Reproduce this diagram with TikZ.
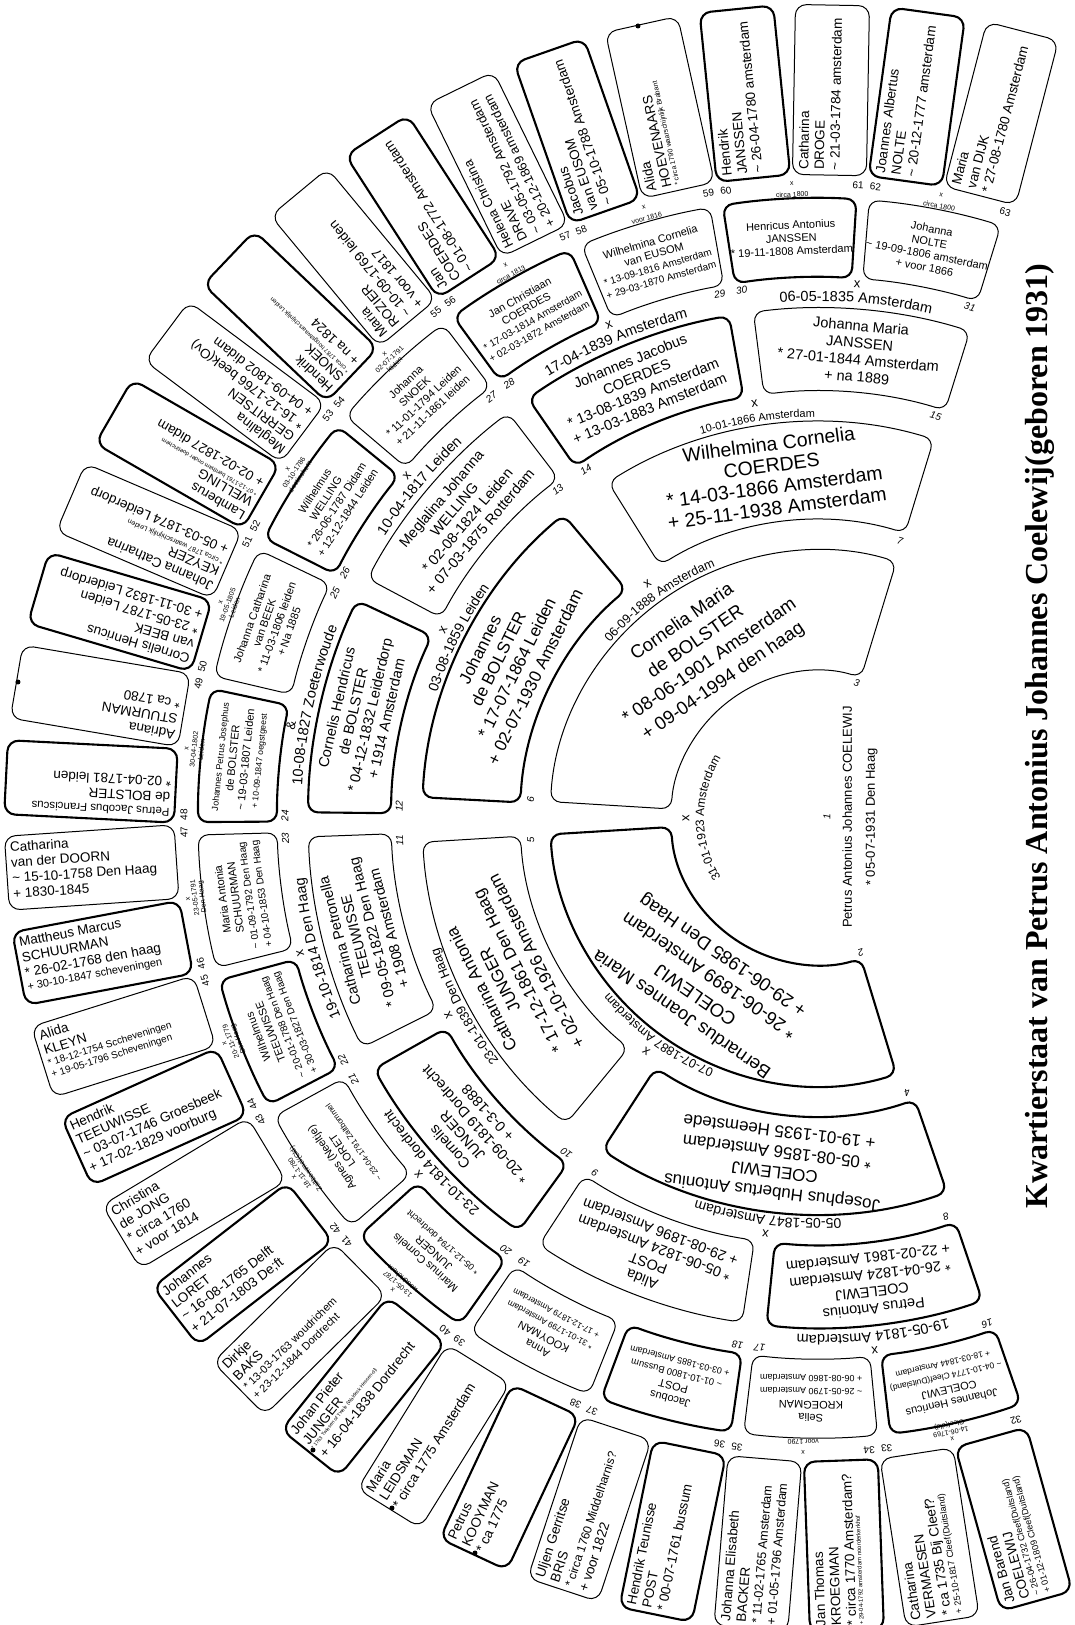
\documentclass[tikz,border=0pt]{standalone}
\usepackage{fontspec}
\setmainfont{Liberation Sans}
\newfontfamily\titlefont{Liberation Serif}
\usetikzlibrary{decorations.text}
\newcommand\fsz[2]{\fontsize{#1}{#2}\selectfont}
\newcommand\SmL[2]{{\fontsize{#1}{#1}\selectfont\setlength\baselineskip{1.2\baselineskip}#2\par}}
\tikzset{
  male/.style={line width=2.1},
  female/.style={line width=1},
  gtwo/.style={align=center,font=\fsz{18.5}{24}},
  gthree/.style={align=center,font=\fsz{17}{20.5}},
  gfour/.style={align=center,font=\fsz{14.5}{17}},
  gfive/.style={align=center,font=\fsz{11}{13}},
  sixbox/.style={draw,rounded corners=11,inner sep=5,minimum width=170,minimum height=74},
  numlab/.style={font=\fsz{10}{10}\itshape,inner sep=0},
  numsix/.style={font=\fsz{10}{10},inner sep=0},
  xmk/.style={font=\fsz{13}{13},inner sep=0},
  smlab/.style={align=center,font=\fsz{7}{7.5},inner sep=0},
  smx/.style={font=\fsz{7}{7},inner sep=0},
  dotm/.style={fill=black}
}
\newcommand\ArcBox[5]{\draw[rounded corners=10,#5] (#1:#3) arc[start angle=#1,end angle=#2,radius=#3] -- (#2:#4) arc[start angle=#2,end angle=#1,radius=#4] -- cycle;}
\newcommand\GenFour[3]{%
  \pgfmathsetmacro\ph{276.5-27.36*(#1-8)}%
  \pgfmathsetmacro\pa{\ph-12.3}\pgfmathsetmacro\pb{\ph+12.3}%
  \ArcBox{\pa}{\pb}{427}{510}{#2}%
  \node[gfour,rotate=\ph-90] (p#1) at (\ph:468.5) {#3};%
  \pgfmathsetmacro\pl{mod(#1,2)==0 ? \ph+11.3 : \ph-11.3}%
  \node[numlab,rotate=\pl-90] (n#1) at (\pl:419) {#1};}
\newcommand\GenFive[3]{%
  \pgfmathsetmacro\ph{282.9-13.59*(#1-16)}%
  \pgfmathsetmacro\pa{\ph-6.2}\pgfmathsetmacro\pb{\ph+6.2}%
  \ArcBox{\pa}{\pb}{541}{620}{#2}%
  \node[gfive,rotate=\ph-90] (p#1) at (\ph:580.5) {#3};%
  \pgfmathsetmacro\pl{mod(#1,2)==0 ? \ph+5.6 : \ph-5.6}%
  \node[numlab,rotate=\pl-90] (n#1) at (\pl:533) {#1};}
\newcommand\GenSix[3]{%
  \pgfmathsetmacro\ph{285.6-6.78*(#1-32)}%
  \pgfmathsetmacro\rt{\ph<180 ? \ph : \ph-180}%
  \node[sixbox,#2,rotate=\rt] (p#1) at (\ph:728) {\parbox[c][62pt][t]{160pt}{\fsz{13.5}{15.5}\raggedright #3\par}};%
  \pgfmathsetmacro\pl{mod(#1,2)==0 ? \ph+2.6 : \ph-2.6}%
  \node[numsix,rotate=\pl-90] (n#1) at (\pl:634) {#1};}
\newcommand\MarLab[6]{% name, angle, radius, half span, size, text
  \path[decorate,decoration={text along path,text align=center,text={|\fsz{#5}{#5}|#6}}] ({#2+#4}:#3) arc[start angle={#2+#4},end angle={#2-#4},radius=#3];
  \node[xmk,rotate=#2-90] (#1) at (#2:#3+18) {x};}
\newcommand\SmallLab[3]{%
  \node[smlab,rotate=#2-90] (#1) at (#2:624) {#3};
  \node[smx,rotate=#2-90] (#1x) at (#2:635) {x};}
\begin{document}
\begin{tikzpicture}[x=1pt,y=1pt]
\useasboundingbox (-818,-807) rectangle (256,818);
\fill[white] (-818,-807) rectangle (256,818);

% title
\node[rotate=90,font=\titlefont\bfseries\fsz{32}{32}] (title) at (222,82) {Kwartierstaat van Petrus Antonius Johannes Coelewij(geboren 1931)};

% generation 1
\node[rotate=90,align=center,font=\fsz{13}{23}] (p1) at (42,1) {Petrus Antonius Johannes COELEWIJ\\* 05-07-1931 Den Haag};
\node[numlab,rotate=90] (n1) at (9,1) {1};

% generation 2
\ArcBox{183.5}{287}{147}{268}{male}
\node[gtwo,rotate=145.25] (p2) at (235.25:202) {Bernardus Joannes Maria\\COELEWIJ\\* 26-06-1899 Amsterdam\\+ 29-06-1985 Den Haag};
\ArcBox{73}{176.5}{147}{268}{female}
\node[gtwo,rotate=34.75] (p3) at (124.75:202) {Cornelia Maria\\de BOLSTER\\* 08-06-1901 Amsterdam\\+ 09-04-1994 den haag};
\node[numlab,rotate=197.7] (n2) at (287.7:141) {2};
\node[numlab,rotate=-16] (n3) at (74:141) {3};

% generation 3
\ArcBox{237}{289}{298}{396}{male}
\node[gthree,rotate=173] (p4) at (263:347) {Josephus Hubertus Antonius\\COELEWIJ\\* 05-08-1856 Amsterdam\\+ 19-01-1935 Heemstede};
\ArcBox{183.5}{230.5}{298}{396}{female}
\node[gthree,rotate=117] (p5) at (207:347) {Catharina Antonia\\JUNGER\\* 17-12-1861 Den Haag\\+ 02-10-1926 Amsterdam};
\ArcBox{130}{177}{298}{396}{male}
\node[gthree,rotate=63.5] (p6) at (153.5:347) {Johannes\\de BOLSTER\\* 17-07-1864 Leiden\\+ 02-07-1930 Amsterdam};
\ArcBox{73}{122}{298}{396}{female}
\node[gthree,font=\fsz{19.5}{21.5},rotate=7.5] (p7) at (97.5:345) {Wilhelmina Cornelia\\COERDES\\* 14-03-1866 Amsterdam\\+ 25-11-1938 Amsterdam};
\node[numlab,rotate=198] (n4) at (288:289) {4};
\node[numlab,rotate=94.4] (n5) at (184.4:288) {5};
\node[numlab,rotate=86.3] (n6) at (176.3:288) {6};
\node[numlab,rotate=-16.5] (n7) at (73.5:289) {7};

% generation 4
\GenFour{8}{male}{Petrus Antonius\\COELEWIJ\\* 26-04-1824 Amsterdam\\+ 22-02-1861 Amsterdam}
\GenFour{9}{female}{Alida\\POST\\* 05-06-1824 Amsterdam\\+ 29-08-1896 Amsterdam}
\GenFour{10}{male}{Cornelis\\JUNGER\\* 20-09-1819 Dordrecht\\+ 0-3-1888}
\GenFour{11}{female}{Catharina Petronella\\TEEUWISSE\\* 09-05-1822 Den Haag\\+ 1908 Amsterdam}
\GenFour{12}{male}{Cornelis Hendricus\\de BOLSTER\\* 04-12-1832 Leiderdorp\\+ 1914 Amsterdam}
\GenFour{13}{female}{Meglalina Johanna\\WELLING\\* 02-08-1824 Leiden\\+ 07-03-1875 Rotterdam}
\GenFour{14}{male}{Johannes Jacobus\\COERDES\\* 13-08-1839 Amsterdam\\+ 13-03-1883 Amsterdam}
\GenFour{15}{female}{Johanna Maria\\JANSSEN\\* 27-01-1844 Amsterdam\\+ na 1889}

% generation 5
\GenFive{16}{male}{Johannes Henricus\\COELEWIJ\\{\fsz{8.5}{10}\textasciitilde{} 04-10-1774 Cleef(Duitsland)}\\{\fsz{8.5}{10}+ 18-03-1844 Amsterdam}}
\GenFive{17}{female}{Selia\\KROEGMAN\\{\fsz{9}{10}\textasciitilde{} 26-05-1790 Amsterdam}\\{\fsz{9}{10}+ 06-08-1860 Amsterdam}}
\GenFive{18}{male}{Jacobus\\POST\\{\fsz{9.5}{11}\textasciitilde{} 01-10-1800 Bussum}\\{\fsz{9}{10}+ 03-03-1885 Amsterdam}}
\GenFive{19}{female}{Anna\\KOOYMAN\\{\fsz{8.5}{10}* 31-01-1799 Amsterdam}\\{\fsz{8.5}{10}+ 17-12-1879 Amsterdam}}
\GenFive{20}{male}{Marinus Cornelis\\JUNGER\\{\fsz{9}{10}* 05-12-1794 dordrecht}}
\GenFive{21}{female}{Agnes (Neeltje)\\LORET\\{\fsz{8}{10}\textasciitilde{} 23-04-1791 Zaltbommel}}
\GenFive{22}{male}{Wilhelmus\\TEEUWISSE\\{\fsz{10}{11}\textasciitilde{} 20-01-1788 Den Haag}\\{\fsz{10}{11}+ 30-03-1827 Den Haag}}
\GenFive{23}{female}{Maria Antonia\\SCHUURMAN\\{\fsz{10}{11}\textasciitilde{} 01-09-1792 Den Haag}\\{\fsz{10}{11}+ 04-10-1853 Den Haag}}
\GenFive{24}{male}{{\fsz{9}{11}Johannes Petrus Josephus}\\de BOLSTER\\\textasciitilde{} 19-03-1807 Leiden\\{\fsz{8.5}{10}+ 10-09-1847 oegstgeest}}
\GenFive{25}{female}{Johanna Catharina\\van BEEK\\* 11-03-1806 leiden\\+ Na 1885}
\GenFive{26}{male}{Wilhelmus\\WELLING\\* 26-06-1787 Didam\\+ 12-12-1844 Leiden}
\GenFive{27}{female}{Johanna\\SNOEK\\* 11-01-1794 Leiden\\+ 21-11-1861 leiden}
\GenFive{28}{male}{Jan Christiaan\\COERDES\\{\fsz{10}{11}* 17-03-1814 Amsterdam}\\{\fsz{10}{11}+ 02-03-1872 Amsterdam}}
\GenFive{29}{female}{Wilhelmina Cornelia\\van EUSOM\\{\fsz{10}{11}* 13-09-1816 Amsterdam}\\{\fsz{10}{11}+ 29-03-1870 Amsterdam}}
\GenFive{30}{male}{Henricus Antonius\\JANSSEN\\* 19-11-1808 Amsterdam}
\GenFive{31}{female}{Johanna\\NOLTE\\\textasciitilde{} 19-09-1806 amsterdam\\+ voor 1866}

% generation 6
\GenSix{32}{male}{Jan Barend\par COELEWIJ\par\SmL{9}{\textasciitilde{} 26-04-1732 Cleef(Duitsland)}\SmL{9}{+ 01-12-1809 Cleef(Duitsland)}}
\GenSix{33}{female}{Catharina\par VERMAESEN\par * ca 1735 Bij Cleef?\par\SmL{9}{+ 25-10-1817 Cleef(Duitsland)}}
\GenSix{34}{male}{Jan Thomas\par KROEGMAN\par * circa 1770 Amsterdam?\par\SmL{6}{+ 29-04-1792 amsterdam noorderkerkhof}}
\GenSix{35}{female}{Johanna Elisabeth\par BACKER\par\SmL{12.5}{* 11-02-1765 Amsterdam}\SmL{12.5}{+ 01-05-1796 Amsterdam}}
\GenSix{36}{male}{Hendrik Teunisse\par POST\par * 00-07-1761 bussum}
\GenSix{37}{female}{Uljen Gerritse\par BRIS\par\SmL{12}{* circa 1760 Middelharnis?}+ voor 1822}
\GenSix{38}{male}{Petrus\par KOOYMAN\par * ca 1775}
\GenSix{39}{female}{Maria\par LEIDSMAN\par * circa 1775 Amsterdam}
\GenSix{40}{male}{Johan Pieter\par JUNGER\par\SmL{5}{* 1763 Twiesen of Twele (Waldeck Hessen-dl)}+ 16-04-1838 Dordrecht}
\GenSix{41}{female}{Dirkje\par BAKS\par\SmL{11}{* 13-03-1763 woudrichem}\SmL{11}{+ 23-12-1844 Dordrecht}}
\GenSix{42}{male}{Johannes\par LORET\par\textasciitilde{} 16-08-1765 Delft\par + 21-07-1803 De;ft}
\GenSix{43}{female}{Christina\par de JONG\par * circa 1760\par + voor 1814}
\GenSix{44}{male}{Hendrik\par TEEUWISSE\par\textasciitilde{} 03-07-1746 Groesbeek\par + 17-02-1829 voorburg}
\GenSix{45}{female}{Alida\par KLEYN\par\SmL{10}{* 18-12-1754 Sccheveningen}\SmL{10}{+ 19-05-1796 Scheveningen}}
\GenSix{46}{male}{Mattheus Marcus\par SCHUURMAN\par * 26-02-1768 den haag\par\SmL{11}{+ 30-10-1847 scheveningen}}
\GenSix{47}{female}{Catharina\par van der DOORN\par\textasciitilde{} 15-10-1758 Den Haag\par + 1830-1845}
\GenSix{48}{male}{\SmL{11.5}{Petrus Jacobus Franciscus}de BOLSTER\par * 02-04-1781 leiden}
\GenSix{49}{female}{Adriana\par STUURMAN\par * ca 1780}
\GenSix{50}{male}{Cornelis Henricus\par van BEEK\par * 23-05-1787 Leiden\par + 30-11-1832 Leiderdorp}
\GenSix{51}{female}{Johanna Catharina\par KEYZER\par\SmL{7}{* circa 1787 waarschijnlijk Leiden}+ 05-03-1874 Leiderdorp}
\GenSix{52}{male}{Lamberus\par WELLING\par\SmL{6}{* 07-12-1761 bentham onder doetinchem}+ 02-02-1827 didam}
\GenSix{53}{female}{Meglalina\par GERRITSEN\par * 16-12-1766 beek(Ov)\par + 04-09-1802 didam}
\GenSix{54}{male}{Hendrik\par SNOEK\par\SmL{6}{* circa 1787 hoogstwaarschijnlijk Leiden}+ na 1824}
\GenSix{55}{female}{Maria\par ROZIER\par\textasciitilde{} 10-09-1769 leiden\par + voor 1817}
\GenSix{56}{male}{Jan\par COERDES\par\textasciitilde{} 01-08-1772 Amsterdam}
\GenSix{57}{female}{\SmL{13}{Helena Christina}\SmL{13}{DRAVE}\SmL{13}{\textasciitilde{} 03-05-1792 Amsterdam}\SmL{13}{+ 20-12-1869 amsterdam}}
\GenSix{58}{male}{Jacobus\par van EUSOM\par\textasciitilde{} 05-10-1788 Amsterdam}
\GenSix{59}{female}{Alida\par HOEVENAARS\par\SmL{7}{* circa 1790 waarschijnlijk Brabant}}
\GenSix{60}{male}{Hendrik\par JANSSEN\par\textasciitilde{} 26-04-1780 amsterdam}
\GenSix{61}{female}{Catharina\par DROGE\par\textasciitilde{} 21-03-1784 amsterdam}
\GenSix{62}{male}{Joannes Albertus\par NOLTE\par\textasciitilde{} 20-12-1777 amsterdam}
\GenSix{63}{female}{Maria\par van DIJK\par * 27-08-1780 Amsterdam}

% marriages generation 1-2
\MarLab{m2}{180}{114}{60}{12}{31-01-1923 Amsterdam}
% generation 2-3
\MarLab{m4}{233.7}{272}{25}{12.5}{07-07-1887 Amsterdam}
\MarLab{m6}{126}{272}{25}{12.5}{06-09-1888 Amsterdam}
% generation 3-4
\MarLab{m8}{262.8}{401}{20}{14}{05-05-1847 Amsterdam}
\MarLab{m10}{208.1}{401}{20}{13}{23-01-1839 Den Haag}
\MarLab{m12}{153.4}{401}{20}{14}{03-08-1859 Leiden}
\MarLab{m14}{98.7}{401}{20}{11}{10-01-1866 Amsterdam}
% generation 4-5
\MarLab{m16}{276.1}{517}{15}{14.5}{19-05-1814 Amsterdam}
\MarLab{m20}{221.7}{517}{15}{14}{23-10-1814 dordrecht}
\MarLab{m22}{194.6}{517}{15}{14.5}{19-10-1814 Den Haag}
\path[decorate,decoration={text along path,text align=center,text={|\fsz{14.5}{14.5}|10-08-1827 Zoeterwoude}}] (182.4:517) arc[start angle=182.4,end angle=152.4,radius=517];
\node[xmk,rotate=80] (m24) at (170:535) {\&};
\MarLab{m26}{140.2}{517}{15}{14.5}{10-04-1817 Leiden}
\MarLab{m28}{113}{517}{15}{14.5}{17-04-1839 Amsterdam}
\MarLab{m30}{85.8}{517}{15}{14.5}{06-05-1835 Amsterdam}
% generation 5-6
\SmallLab{m32}{282.21}{14-06-1769\\Cleef(dld)}
\SmallLab{m34}{268.65}{voor 1790}
\SmallLab{m40}{227.97}{13-05-1787\\woudrichem}
\SmallLab{m42}{214.41}{18-11-1780\\Zaltbommel(Gld)}
\SmallLab{m44}{200.85}{20-11-1779\\Den Haag}
\SmallLab{m46}{187.29}{23-05-1791\\Den Haag}
\SmallLab{m48}{173.73}{30-04-1802\\Leiden}
\SmallLab{m50}{160.17}{19-05-1805\\Leiden}
\SmallLab{m52}{146.61}{03-10-1786\\doetinchem}
\SmallLab{m54}{133.05}{02-07-1791\\leiden}
\SmallLab{m56}{119.49}{circa 1813}
\SmallLab{m58}{105.93}{voor 1816}
\SmallLab{m60}{92.37}{circa 1800}
\SmallLab{m62}{78.81}{circa 1800}

% small dots on outlines
\fill[dotm] (-180,792) circle[radius=2.5];
\fill[dotm] (-800,136) circle[radius=2.5];
\fill[dotm] (-426,-690) circle[radius=2.5];
\fill[dotm] (-343,-735) circle[radius=2.5];
\fill[dotm] (-505,-632) circle[radius=2.5];
\end{tikzpicture}
\end{document}
